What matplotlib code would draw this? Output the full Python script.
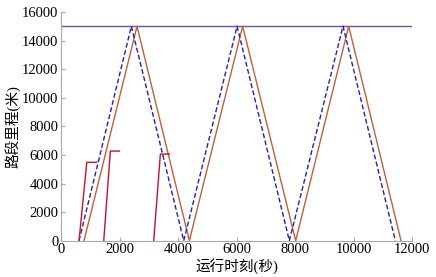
import matplotlib
matplotlib.use("Agg")
import matplotlib.pyplot as plt

plt.rcParams['font.family'] = ['Liberation Serif', 'Noto Sans CJK SC']

# Train A (blue dashed)
blue_t = [615, 2404, 4195, 6020, 7806, 9641, 11430]
blue_d = [0, 15000, 0, 15000, 0, 15000, 0]
# Train B (brown solid)
brown_t = [786, 2598, 4387, 6210, 8023, 9835, 11624]
brown_d = [0, 15000, 0, 15000, 0, 15000, 0]
# Short red segments
red1_t = [615, 880, 1220]
red1_d = [0, 5480, 5480]
red2_t = [1460, 1686, 1994]
red2_d = [0, 6270, 6270]
red3_t = [3169, 3396, 3703]
red3_d = [0, 6060, 6060]
# Top boundary line
top_t = [0, 12000]
top_d = [15000, 15000]

xticks = [0, 2000, 4000, 6000, 8000, 10000, 12000]
yticks = [0, 2000, 4000, 6000, 8000, 10000, 12000, 14000, 16000]

fig = plt.figure(figsize=(4.36, 2.77), dpi=100)
ax = fig.add_axes([0.140, 0.131, 0.805, 0.826])

ax.plot(top_t, top_d, color='#5a5aa0', lw=1.0)
ax.plot(brown_t, brown_d, color='#c0603a', lw=1.0)
ax.plot(blue_t, blue_d, color='#2020b0', lw=1.0, ls=(0, (3.5, 1.8)))
for t, d in [(red1_t, red1_d), (red2_t, red2_d), (red3_t, red3_d)]:
    ax.plot(t, d, color='#c8102e', lw=1.0)

ax.set_xlim(0, 12000)
ax.set_ylim(0, 16000)
ax.set_xticks(xticks)
ax.set_yticks(yticks)
ax.tick_params(direction='in', length=3, color='#aaaaaa', labelsize=10.5, pad=2)
for s in ['top', 'right']:
    ax.spines[s].set_visible(False)
for s in ['left', 'bottom']:
    ax.spines[s].set_color('#aaaaaa')
    ax.spines[s].set_linewidth(0.8)

ax.set_xlabel('运行时刻(秒)', fontsize=10.5, labelpad=2)
ax.set_ylabel('路段里程(米)', fontsize=10.5, labelpad=1)

fig.savefig('out.png', dpi=100)
